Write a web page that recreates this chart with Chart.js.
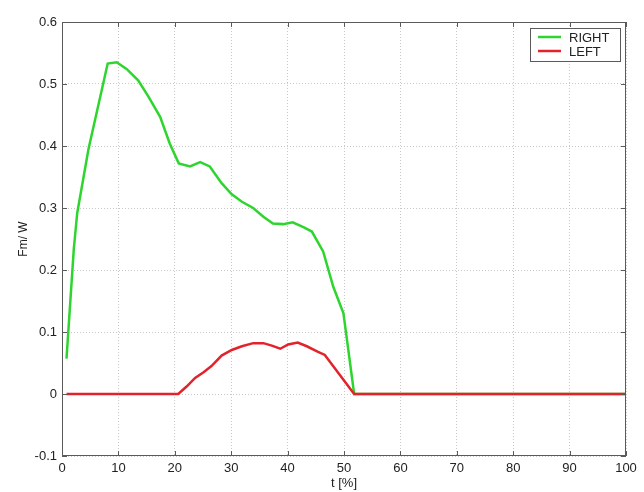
<!DOCTYPE html>
<html>
<head>
<meta charset="utf-8">
<script src="https://cdn.jsdelivr.net/npm/chart.js@4.4.0/dist/chart.umd.min.js"></script>
<style>
  html, body { margin: 0; padding: 0; background: #fff; overflow: hidden; }
  #wrap { width: 644px; height: 492px; }
</style>
</head>
<body>
<div id="wrap"><canvas id="fmChart"></canvas></div>
<script>
// values
var rightT  = [0.8, 2.1, 2.7, 4.7, 8.1, 9.7, 11.5, 13.5, 15.3, 17.4, 19.1, 20.7, 22.7, 24.5, 26.2, 28.3, 30.1, 31.9, 33.9, 35.7, 37.4, 39.2, 40.9, 42.8, 44.3, 46.3, 48.1, 49.9, 50.3, 51.8, 100];
var rightFm = [0.057, 0.235, 0.292, 0.395, 0.533, 0.535, 0.524, 0.506, 0.48, 0.447, 0.404, 0.372, 0.367, 0.374, 0.367, 0.34, 0.322, 0.31, 0.3, 0.286, 0.275, 0.274, 0.277, 0.269, 0.262, 0.23, 0.173, 0.13, 0.103, 0, 0];

var leftT  = [0.8, 20.6, 22.1, 23.6, 25.1, 26.5, 28.3, 30.1, 31.9, 33.9, 35.7, 37.2, 38.7, 40.1, 41.8, 43.4, 45.4, 46.6, 51.8, 100];
var leftFm = [0, 0, 0.012, 0.026, 0.035, 0.045, 0.062, 0.071, 0.077, 0.082, 0.082, 0.078, 0.073, 0.08, 0.083, 0.077, 0.068, 0.063, 0, 0];

var xTicks = [0, 10, 20, 30, 40, 50, 60, 70, 80, 90, 100];

function toPoints(xs, ys) {
    return xs.map(function (x, i) { return { x: x, y: ys[i] }; });
}

var fontFam = "'Liberation Sans', Arial, sans-serif";
var frameColor = '#5a5a5a';

// frame, inner tick marks and legend box like the original figure
var framePlugin = {
    id: 'frame',
    afterDatasetsDraw: function (chart) {
        var ctx = chart.ctx, a = chart.chartArea;
        var xs = chart.scales.x, ys = chart.scales.y;
        ctx.save();
        ctx.strokeStyle = frameColor;
        ctx.lineWidth = 1;
        ctx.strokeRect(a.left + 0.5, a.top + 0.5, a.right - a.left - 1, a.bottom - a.top - 1);
        ctx.beginPath();
        xs.ticks.forEach(function (t) {
            var px = Math.round(xs.getPixelForValue(t.value)) + 0.5;
            ctx.moveTo(px, a.bottom); ctx.lineTo(px, a.bottom - 5);
            ctx.moveTo(px, a.top); ctx.lineTo(px, a.top + 5);
        });
        ys.ticks.forEach(function (t) {
            var py = Math.round(ys.getPixelForValue(t.value)) + 0.5;
            ctx.moveTo(a.left, py); ctx.lineTo(a.left + 5, py);
            ctx.moveTo(a.right, py); ctx.lineTo(a.right - 5, py);
        });
        ctx.stroke();

        // legend
        var bx = a.right - 96, by = a.top + 6, bw = 90, bh = 33;
        ctx.fillStyle = '#fff';
        ctx.fillRect(bx, by, bw, bh);
        ctx.strokeStyle = frameColor;
        ctx.strokeRect(bx + 0.5, by + 0.5, bw, bh);
        ctx.font = '13px ' + fontFam;
        ctx.textBaseline = 'middle';
        chart.data.datasets.forEach(function (ds, i) {
            var ly = by + 9 + i * 14;
            ctx.strokeStyle = ds.borderColor;
            ctx.lineWidth = 2.5;
            ctx.beginPath();
            ctx.moveTo(bx + 8, ly); ctx.lineTo(bx + 31, ly);
            ctx.stroke();
            ctx.fillStyle = '#222';
            ctx.fillText(ds.label, bx + 39, ly + 1);
        });
        ctx.restore();
    }
};

var ctx = document.getElementById('fmChart');

var chartData = {
    datasets: [{
        label: 'RIGHT',
        data: toPoints(rightT, rightFm),
        borderColor: '#2fd52f',
        borderWidth: 2.5,
        pointRadius: 0,
        tension: 0,
        order: 2
    }, {
        label: 'LEFT',
        data: toPoints(leftT, leftFm),
        borderColor: '#e3232b',
        borderWidth: 2.5,
        pointRadius: 0,
        tension: 0,
        order: 1
    }]
};

var chartOptions = {
    responsive: true,
    maintainAspectRatio: false,
    animation: false,
    layout: { padding: { top: 22, right: 18, left: 0, bottom: 0 } },
    plugins: {
        legend: { display: false },
        tooltip: { enabled: false }
    },
    scales: {
        x: {
            type: 'linear',
            min: 0,
            max: 100,
            afterBuildTicks: function (scale) {
                scale.ticks = xTicks.map(function (v) { return { value: v }; });
            },
            afterFit: function (scale) { scale.height = 36; },
            grid: { color: '#c8c8c8', drawTicks: false, lineWidth: 1 },
            border: { display: false, dash: [1, 2] },
            ticks: { color: '#222', padding: 5, font: { size: 13, family: fontFam }, maxRotation: 0 },
            title: { display: true, text: 't [%]', color: '#222', font: { size: 13, family: fontFam }, padding: { top: 0, bottom: 1 } }
        },
        y: {
            min: -0.1,
            max: 0.6,
            afterFit: function (scale) { scale.width = 62; },
            grid: { color: '#c8c8c8', drawTicks: false, lineWidth: 1 },
            border: { display: false, dash: [1, 2] },
            ticks: {
                stepSize: 0.1,
                color: '#222',
                padding: 5,
                font: { size: 13, family: fontFam },
                callback: function (v) { return String(Number(v.toFixed(1))); }
            },
            title: { display: true, text: 'Fm/ W', color: '#222', font: { size: 12, family: fontFam }, padding: { top: 16, bottom: 0 } }
        }
    }
};

var fmChart = new Chart(ctx, {
    type: 'line',
    data: chartData,
    options: chartOptions,
    plugins: [framePlugin]
});
</script>
</body>
</html>
